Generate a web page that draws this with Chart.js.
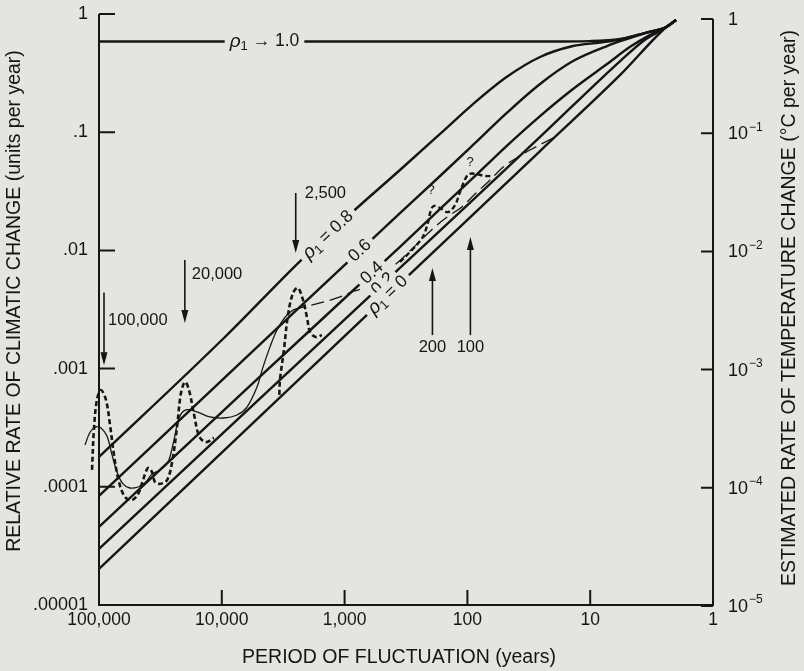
<!DOCTYPE html>
<html>
<head>
<meta charset="utf-8">
<title>Rate of climatic change vs period of fluctuation</title>
<script src="https://cdn.jsdelivr.net/npm/chart.js@4.4.1/dist/chart.umd.min.js"></script>
<style>
  html, body { margin: 0; padding: 0; background: #e4e5e0; }
  canvas { display: block; }
</style>
</head>
<body>
<canvas id="rateChart" width="804" height="671"></canvas>
<script>
// Axis ticks
const xTickValues = [100000, 10000, 1000, 100, 10, 1];
const xTickLabels = ['100,000', '10,000', '1,000', '100', '10', '1'];
const yTickValues = [1, 0.1, 0.01, 0.001, 0.0001, 0.00001];
const yTickLabels = ['1', '.1', '.01', '.001', '.0001', '.00001'];
const y2TickBase = ['1', '10', '10', '10', '10', '10'];
const y2TickPower = ['', '\u22121', '\u22122', '\u22123', '\u22124', '\u22125'];

// Red-noise curves: period (years) -> relative rate (units per year)
const rho10Period = [100000, 25, 10, 5.7, 3.6, 2.4, 2];
const rho10Rate   = [0.585, 0.585, 0.59, 0.614, 0.69, 0.776, 0.89];
const rho08Period = [100000, 9800, 2300, 900, 354, 167, 90, 48, 25.6, 13.8, 8.3, 5.7, 3.6, 2.4, 2];
const rho08Rate   = [1.79e-4, 1.78e-3, 8.13e-3, 0.0203, 0.0479, 0.0966, 0.173, 0.293, 0.433, 0.536, 0.574, 0.609, 0.69, 0.776, 0.89];
const rho06Period = [100000, 5900, 354, 167, 90, 48, 25.6, 13.8, 7.3, 4.7, 3.3, 2.4, 2];
const rho06Rate   = [8.36e-5, 1.33e-3, 0.0207, 0.0426, 0.078, 0.145, 0.256, 0.40, 0.536, 0.627, 0.705, 0.776, 0.89];
const rho04Period = [100000, 5900, 354, 90, 48, 25.6, 13.8, 7.3, 4.7, 3.3, 2.4, 2];
const rho04Rate   = [4.57e-5, 7.13e-4, 0.0107, 0.041, 0.0764, 0.137, 0.232, 0.377, 0.53, 0.66, 0.776, 0.89];
const rho02Period = [100000, 354, 90, 25.6, 5.7, 3.6, 2.4, 2];
const rho02Rate   = [2.98e-5, 7.1e-3, 0.0267, 0.0911, 0.40, 0.603, 0.776, 0.89];
const rho00Period = [100000, 310, 25.6, 5.7, 2.4, 2];
const rho00Rate   = [2.02e-5, 5.96e-3, 0.0693, 0.305, 0.776, 0.89];

// Observed estimates
const thinPeriod = [130000, 118000, 105700, 96300, 86100, 78300, 71300, 63800, 56000, 48100, 42200, 37000, 31800, 27400, 24500, 22300, 19600, 15900, 12500, 9780, 7520, 6240, 5170, 4620, 4055, 3555, 3055, 2630];
const thinRate   = [2.26e-4, 2.91e-4, 3.21e-4, 3.15e-4, 2.69e-4, 1.86e-4, 1.33e-4, 1.06e-4, 9.77e-5, 9.96e-5, 1.08e-4, 1.28e-4, 1.39e-4, 1.62e-4, 2.49e-4, 3.82e-4, 4.47e-4, 4.30e-4, 3.90e-4, 3.82e-4, 4.05e-4, 4.73e-4, 6.99e-4, 1.03e-3, 1.52e-3, 2.12e-3, 2.73e-3, 3.13e-3];
const longDashPeriod = [2630, 2180, 1585, 1153, 871, 682, 374, 277, 221, 177, 139, 111, 86.7, 67.9, 57.4, 47.6, 37.3, 30.9, 20.1];
const longDashRate   = [3.13e-3, 3.32e-3, 3.59e-3, 3.96e-3, 4.45e-3, 4.90e-3, 7.82e-3, 0.0105, 0.0132, 0.0164, 0.0199, 0.0233, 0.030, 0.0379, 0.0452, 0.0538, 0.0629, 0.0707, 0.0893];
const dashAPeriod = [114000, 110000, 104000, 96300, 87700, 81300, 75500, 68800, 61400, 53900, 48100, 43800, 39900, 37000, 35000, 31800, 27900, 25400, 23200, 21500, 19900, 18500, 16800, 15300, 13500, 11600];
const dashARate   = [1.39e-4, 3.03e-4, 5.42e-4, 6.59e-4, 5.42e-4, 3.33e-4, 1.86e-4, 1.10e-4, 8.2e-5, 7.73e-5, 8.69e-5, 1.14e-4, 1.44e-4, 1.33e-4, 1.10e-4, 1.06e-4, 1.14e-4, 1.62e-4, 3.15e-4, 6.22e-4, 7.71e-4, 6.59e-4, 4.05e-4, 2.69e-4, 2.39e-4, 2.59e-4];
const dashBPeriod = [3400, 3360, 3120, 2890, 2630, 2400, 2180, 2020, 1910, 1710, 1530];
const dashBRate   = [6.0e-4, 8.01e-4, 1.44e-3, 2.84e-3, 4.36e-3, 4.81e-3, 3.80e-3, 2.68e-3, 2.04e-3, 1.85e-3, 1.92e-3];
const dashCPeriod = [354, 282, 234, 213, 198, 187, 167, 144, 126, 115, 105, 97, 85, 72, 63];
const dashCRate   = [7.98e-3, 0.0101, 0.0127, 0.0161, 0.022, 0.0238, 0.0228, 0.0211, 0.0242, 0.0312, 0.0394, 0.0443, 0.0443, 0.0426, 0.0426];

// Marked periods
const arrowPeriods = [100000, 20000, 2500, 200, 100];
const arrowLabels = ['100,000', '20,000', '2,500', '200', '100'];

const BG = '#e4e5e0';
const INK = '#151515';
const FONT = '"Liberation Sans", Arial, Helvetica, sans-serif';

function pts(ps, vs) {
  return ps.map((p, i) => ({ x: p, y: vs[i] }));
}

function rhoLine(ps, vs) {
  return { data: pts(ps, vs), borderColor: INK, borderWidth: 2.4, pointRadius: 0,
           cubicInterpolationMode: 'monotone', fill: false };
}

function obsLine(ps, vs, width, dash) {
  return { data: pts(ps, vs), borderColor: INK, borderWidth: width, borderDash: dash,
           pointRadius: 0, tension: 0.35, fill: false, clip: false };
}

// log-log lookup along a curve, used to place labels on it
function rateOn(ps, vs, p) {
  const lp = Math.log10(p);
  for (let i = 0; i < ps.length - 1; i++) {
    const a = Math.log10(ps[i]), b = Math.log10(ps[i + 1]);
    if (lp <= a && lp >= b) {
      const t = (lp - a) / (b - a);
      return Math.pow(10, Math.log10(vs[i]) + t * (Math.log10(vs[i + 1]) - Math.log10(vs[i])));
    }
  }
  return vs[vs.length - 1];
}

const rhoCurves = [
  [rho10Period, rho10Rate], [rho08Period, rho08Rate], [rho06Period, rho06Rate],
  [rho04Period, rho04Rate], [rho02Period, rho02Rate], [rho00Period, rho00Rate]
];

const lineLabels = [
  { curve: 0, at: 4490, parts: [['\u03C1', 'i'], ['1', 's'], [' \u2192 1.0', 'n']] },
  { curve: 1, at: 1365, parts: [['\u03C1', 'i'], ['1', 's'], [' = 0.8', 'n']] },
  { curve: 2, at: 750, parts: [['0.6', 'n']] },
  { curve: 3, at: 598, parts: [['0.4', 'n']] },
  { curve: 4, at: 487, parts: [['0.2', 'n']] },
  { curve: 5, at: 443, parts: [['\u03C1', 'i'], ['1', 's'], [' = 0', 'n']] }
];

// arrow annotations (tail rate, head rate, label placement)
const arrowNotes = [
  { dx: 5, tail: 0.0044, head: 0.00107, textDx: 4, textRate: 0.00253, below: false },
  { dx: 0, tail: 0.0083, head: 0.00243, textDx: 7, textRate: 0.0062, below: false },
  { dx: 0, tail: 0.0306, head: 0.0095, textDx: 9, textRate: 0.0306, below: false },
  { dx: 2, tail: 0.00192, head: 0.0071, textDx: 0, textRate: 0.00152, below: true },
  { dx: 3, tail: 0.00192, head: 0.013, textDx: 0, textRate: 0.00152, below: true }
];
const queryMarks = [[197, 0.0324], [95, 0.056]];

function partFont(k) {
  if (k === 'i') return 'italic 19px ' + FONT;
  if (k === 's') return '13px ' + FONT;
  return '17.5px ' + FONT;
}

function partsWidth(ctx, parts) {
  let w = 0;
  parts.forEach(([t, k]) => { ctx.font = partFont(k); w += ctx.measureText(t).width; });
  return w;
}

function drawParts(ctx, parts, x, y) {
  let cx = x;
  parts.forEach(([t, k]) => {
    ctx.font = partFont(k);
    ctx.fillText(t, cx, y + (k === 's' ? 5 : 0));
    cx += ctx.measureText(t).width;
  });
}

function noPadding(s) {
  s.paddingTop = 0; s.paddingBottom = 0; s.paddingLeft = 0; s.paddingRight = 0;
}

const figurePlugin = {
  id: 'figure',
  beforeDraw(chart) {
    const ctx = chart.ctx;
    ctx.save();
    ctx.fillStyle = BG;
    ctx.fillRect(0, 0, chart.width, chart.height);
    ctx.restore();
  },
  afterDatasetsDraw(chart) {
    const { ctx, chartArea: a, scales: { x, y, y2 } } = chart;
    ctx.save();
    ctx.strokeStyle = INK;
    ctx.fillStyle = INK;

    // axes frame (no top edge)
    ctx.lineWidth = 2;
    ctx.beginPath();
    ctx.moveTo(a.left, a.top);
    ctx.lineTo(a.left, a.bottom);
    ctx.lineTo(a.right, a.bottom);
    ctx.lineTo(a.right, a.top + 5);
    ctx.stroke();

    // inward tick marks
    ctx.beginPath();
    yTickValues.forEach(v => {
      const py = y.getPixelForValue(v);
      ctx.moveTo(a.left, py); ctx.lineTo(a.left + 16, py);
      const py2 = y2.getPixelForValue(v) + (v === 1 ? 5 : 1);
      ctx.moveTo(a.right, py2); ctx.lineTo(a.right - 12, py2);
    });
    xTickValues.forEach(v => {
      const px = x.getPixelForValue(v);
      ctx.moveTo(px, a.bottom); ctx.lineTo(px, a.bottom - 15);
    });
    ctx.stroke();

    // right axis labels with powers of ten
    ctx.textBaseline = 'middle';
    ctx.textAlign = 'left';
    yTickValues.forEach((v, i) => {
      const py = y2.getPixelForValue(v) + (v === 1 ? 6 : 2);
      ctx.font = '18px ' + FONT;
      ctx.fillText(y2TickBase[i], a.right + 15, py);
      const w = ctx.measureText(y2TickBase[i]).width;
      if (y2TickPower[i]) {
        ctx.font = '12px ' + FONT;
        ctx.fillText(y2TickPower[i], a.right + 16 + w, py - 7);
      }
    });

    // labels sitting on the rho curves
    lineLabels.forEach(lab => {
      const [ps, vs] = rhoCurves[lab.curve];
      const px = x.getPixelForValue(lab.at);
      const py = y.getPixelForValue(rateOn(ps, vs, lab.at));
      const xa = x.getPixelForValue(lab.at * 1.4), ya = y.getPixelForValue(rateOn(ps, vs, lab.at * 1.4));
      const xb = x.getPixelForValue(lab.at / 1.4), yb = y.getPixelForValue(rateOn(ps, vs, lab.at / 1.4));
      const ang = Math.atan2(yb - ya, xb - xa);
      const w = partsWidth(ctx, lab.parts);
      ctx.save();
      ctx.translate(px, py);
      ctx.rotate(ang);
      ctx.fillStyle = BG;
      ctx.fillRect(-w / 2 - 5, -10, w + 10, 20);
      ctx.fillStyle = INK;
      ctx.textAlign = 'left';
      ctx.textBaseline = 'middle';
      drawParts(ctx, lab.parts, -w / 2, 0);
      ctx.restore();
    });

    // period arrows
    ctx.lineWidth = 1.6;
    arrowNotes.forEach((n, i) => {
      const px = x.getPixelForValue(arrowPeriods[i]) + n.dx;
      const t = y.getPixelForValue(n.tail);
      const h = y.getPixelForValue(n.head);
      const dir = h > t ? 1 : -1;
      ctx.beginPath();
      ctx.moveTo(px, t);
      ctx.lineTo(px, h - dir * 10);
      ctx.stroke();
      ctx.beginPath();
      ctx.moveTo(px, h);
      ctx.lineTo(px - 3.5, h - dir * 13);
      ctx.lineTo(px + 3.5, h - dir * 13);
      ctx.closePath();
      ctx.fill();
      ctx.font = '16.5px ' + FONT;
      ctx.textBaseline = 'middle';
      const ty = y.getPixelForValue(n.textRate);
      if (n.below) {
        ctx.textAlign = 'center';
        ctx.fillText(arrowLabels[i], px, ty);
      } else {
        ctx.textAlign = 'left';
        ctx.fillText(arrowLabels[i], px + n.textDx, ty);
      }
    });

    ctx.font = '13px ' + FONT;
    ctx.textAlign = 'center';
    queryMarks.forEach(([p, v]) => {
      ctx.fillText('?', x.getPixelForValue(p), y.getPixelForValue(v));
    });

    // axis titles
    ctx.font = '19.5px ' + FONT;
    ctx.textAlign = 'center';
    ctx.textBaseline = 'middle';
    ctx.fillText('PERIOD OF FLUCTUATION (years)', 399, 658);
    ctx.save();
    ctx.translate(15, 301);
    ctx.rotate(-Math.PI / 2);
    ctx.fillText('RELATIVE RATE OF CLIMATIC CHANGE (units per year)', 0, 0);
    ctx.restore();
    ctx.save();
    ctx.translate(790, 308);
    ctx.rotate(-Math.PI / 2);
    ctx.fillText('ESTIMATED RATE OF TEMPERATURE CHANGE (\u00B0C per year)', 0, 0);
    ctx.restore();

    ctx.restore();
  }
};

const ctx = document.getElementById('rateChart').getContext('2d');
const rateChart = new Chart(ctx, {
  type: 'line',
  data: {
    datasets: [
      rhoLine(rho10Period, rho10Rate),
      rhoLine(rho08Period, rho08Rate),
      rhoLine(rho06Period, rho06Rate),
      rhoLine(rho04Period, rho04Rate),
      rhoLine(rho02Period, rho02Rate),
      rhoLine(rho00Period, rho00Rate),
      obsLine(thinPeriod, thinRate, 1.3, []),
      obsLine(longDashPeriod, longDashRate, 1.3, [13, 6]),
      obsLine(dashAPeriod, dashARate, 2.6, [5, 3]),
      obsLine(dashBPeriod, dashBRate, 2.6, [5, 3]),
      obsLine(dashCPeriod, dashCRate, 2.4, [5, 3])
    ]
  },
  options: {
    responsive: false,
    animation: false,
    devicePixelRatio: 1,
    events: [],
    layout: { padding: { top: 14, left: 0, right: 0, bottom: 0 } },
    plugins: {
      legend: { display: false },
      tooltip: { enabled: false }
    },
    scales: {
      x: {
        type: 'logarithmic',
        reverse: true,
        min: 1,
        max: 100000,
        afterBuildTicks: s => { s.ticks = xTickValues.map(v => ({ value: v })); },
        afterFit: s => { s.height = 66; noPadding(s); },
        grid: { display: false, drawTicks: false },
        border: { display: false },
        ticks: {
          autoSkip: false,
          maxRotation: 0,
          padding: 5,
          color: INK,
          font: { family: FONT, size: 17.5 },
          callback: v => xTickLabels[xTickValues.indexOf(v)]
        }
      },
      y: {
        type: 'logarithmic',
        position: 'left',
        min: 0.00001,
        max: 1,
        afterBuildTicks: s => { s.ticks = yTickValues.map(v => ({ value: v })); },
        afterFit: s => { s.width = 99; noPadding(s); },
        grid: { display: false, drawTicks: false },
        border: { display: false },
        ticks: {
          autoSkip: false,
          padding: 11,
          color: INK,
          font: { family: FONT, size: 18 },
          callback: v => yTickLabels[yTickValues.indexOf(v)]
        }
      },
      y2: {
        type: 'logarithmic',
        position: 'right',
        min: 0.00001,
        max: 1,
        afterFit: s => { s.width = 91; noPadding(s); },
        grid: { display: false, drawTicks: false },
        border: { display: false },
        ticks: { display: false }
      }
    }
  },
  plugins: [figurePlugin]
});
</script>
</body>
</html>
